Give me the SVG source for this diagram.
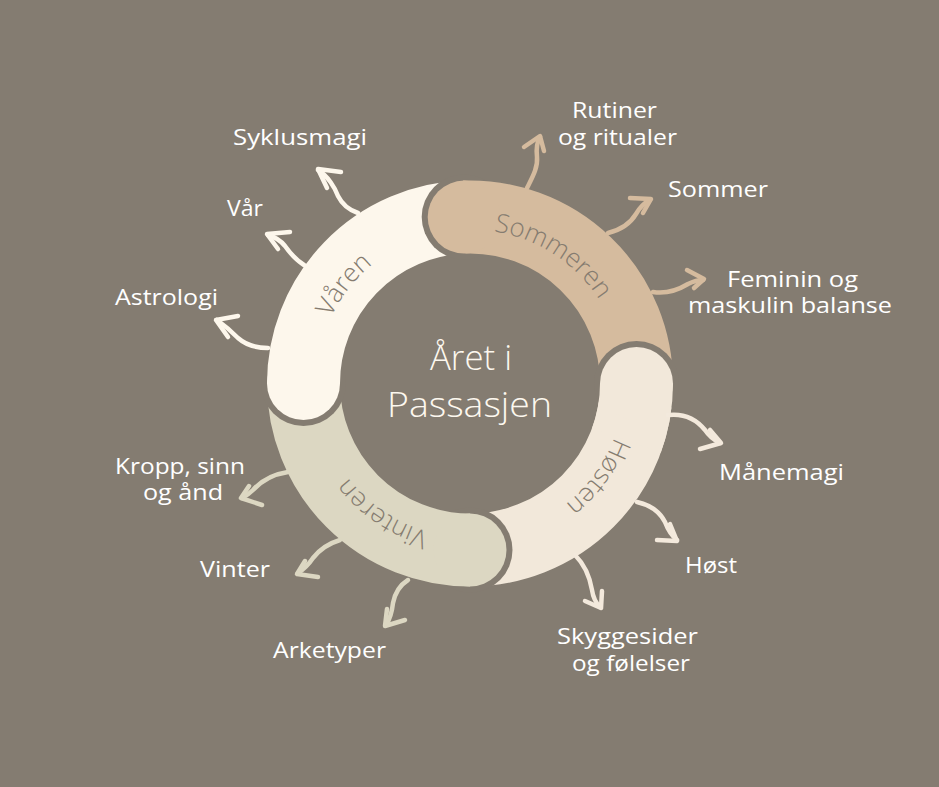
<svg xmlns="http://www.w3.org/2000/svg" width="939" height="787" viewBox="0 0 939 787">
  <defs>
    <style>
      .bg { fill: #847c71; }
      .lbl { font-family: "Open Sans", "Liberation Sans", sans-serif; font-size: 21px; fill: #ffffff; }
      .ring-lbl { font-family: "Open Sans", "Liberation Sans", sans-serif; font-weight: 300; font-size: 26px; fill: #857c70; text-anchor: middle; }
      .center { font-family: "Open Sans", "Liberation Sans", sans-serif; font-weight: 300; font-size: 35px; fill: #fdf8ef; }
      .gap { fill: #847c71; }
      .arc { fill: none; stroke-width: 73; stroke-linecap: butt; }
      .conn path { fill: none; stroke-width: 4.5; stroke-linecap: round; stroke-linejoin: round; }
      .c-som { stroke: #d5bb9e; }
      .c-hos { stroke: #f3e9dc; }
      .c-vin { stroke: #dcd7c2; }
      .c-var { stroke: #fdf7ec; }
    </style>
    <path id="lblpath" d="M 624,383.5 A 154 154 0 1 1 316,383.5 A 154 154 0 1 1 624,383.5"/>
  </defs>

  <rect class="bg" x="0" y="0" width="939" height="787"/>

  <!-- Ring segments -->
  <g id="hosten">
    <circle class="gap" cx="636.5" cy="383.5" r="42.5"/>
    <path class="arc" stroke="#f2e8da" d="M 636.5,383.5 A 166.5 166.5 0 0 1 470,550"/>
    <circle fill="#f2e8da" cx="636.5" cy="383.5" r="36.5"/>
  </g>
  <g id="vinteren">
    <circle class="gap" cx="470" cy="550" r="42.5"/>
    <path class="arc" stroke="#dcd7c2" d="M 470,550 A 166.5 166.5 0 0 1 303.5,383.5"/>
    <circle fill="#dcd7c2" cx="470" cy="550" r="36.5"/>
  </g>
  <g id="varen">
    <circle class="gap" cx="303.5" cy="383.5" r="42.5"/>
    <path class="arc" stroke="#fdf7ec" d="M 303.5,383.5 A 166.5 166.5 0 0 1 464.2,217.1"/>
    <circle fill="#fdf7ec" cx="303.5" cy="383.5" r="36.5"/>
  </g>
  <g id="sommeren">
    <circle class="gap" cx="464.2" cy="217.1" r="42.5"/>
    <path class="arc" stroke="#d5bb9e" d="M 464.2,217.1 A 166.5 166.5 0 0 1 636.5,383.5"/>
    <circle fill="#d5bb9e" cx="464.2" cy="217.1" r="36.5"/>
  </g>
  <g id="hosten-cap">
    <circle class="gap" cx="636.5" cy="383.5" r="42.5"/>
    <path class="arc" stroke="#f2e8da" d="M 636.5,383.5 A 166.5 166.5 0 0 1 626.5,440.4"/>
    <circle fill="#f2e8da" cx="636.5" cy="383.5" r="36.5"/>
  </g>

  <!-- Ring labels -->
  <g id="ring-labels">
    <text class="ring-lbl"><textPath href="#lblpath" startOffset="814">Sommeren</textPath></text>
    <text class="ring-lbl"><textPath href="#lblpath" startOffset="97">Høsten</textPath></text>
    <text class="ring-lbl"><textPath href="#lblpath" startOffset="333">Vinteren</textPath></text>
    <text class="ring-lbl"><textPath href="#lblpath" startOffset="586">Våren</textPath></text>
  </g>

  <!-- Centre -->
  <g id="centre">
    <text class="center" x="430" y="370" textLength="82" lengthAdjust="spacingAndGlyphs">Året i</text>
    <text class="center" x="387" y="417" textLength="165" lengthAdjust="spacingAndGlyphs">Passasjen</text>
  </g>

  <!-- Connectors -->
  <g id="connectors" class="conn">
    <path class="c-som" d="M527,188 C533,176 538,167 537,157 C536,148 537,142 540,137"/>
    <path class="c-som" d="M524,147 L540,136 L544,151"/>
    <path class="c-som" d="M608,233 C620,230 630,224 636,214 C640,207 644,203 650,200"/>
    <path class="c-som" d="M630,198 L651,199 L643,213"/>
    <path class="c-som" d="M653,292 C665,294 678,290 688,284 C694,281 698,280 703,280"/>
    <path class="c-som" d="M687,270 L704,279 L694,288"/>

    <path class="c-hos" d="M668,415 C685,413 697,420 705,430 C709,436 714,440 720,443"/>
    <path class="c-hos" d="M710,430 L721,443 L700,449"/>
    <path class="c-hos" d="M637,502 C650,505 660,512 665,522 C668,530 672,536 677,540"/>
    <path class="c-hos" d="M670,524 L677,541 L657,540"/>
    <path class="c-hos" d="M575,555 C585,565 590,578 592,590 C593,597 596,603 600,607"/>
    <path class="c-hos" d="M585,601 L601,608 L602,591"/>

    <path class="c-vin" d="M288,472 C275,474 262,480 253,490 C250,493 246,496 242,498"/>
    <path class="c-vin" d="M249,486 L241,498 L262,505"/>
    <path class="c-vin" d="M340,540 C330,543 320,549 313,558 C309,564 304,569 298,573"/>
    <path class="c-vin" d="M305,561 L297,574 L318,577"/>
    <path class="c-vin" d="M408,580 C400,585 395,593 393,603 C392,612 390,619 386,625"/>
    <path class="c-vin" d="M387,609 L385,626 L405,620"/>

    <path class="c-var" d="M358,213 C349,210 342,204 338,196 C335,188 328,176 318,170"/>
    <path class="c-var" d="M341,172 L318,169 L327,188"/>
    <path class="c-var" d="M304,265 C296,260 290,253 285,246 C281,241 275,237 268,235"/>
    <path class="c-var" d="M290,232 L267,234 L278,249"/>
    <path class="c-var" d="M268,348 C256,348 246,345 238,338 C232,332 224,325 217,320"/>
    <path class="c-var" d="M238,316 L216,320 L228,337"/>
  </g>

  <!-- Outer labels -->
  <g id="n-rutiner"><text class="lbl" x="572" y="118" textLength="85" lengthAdjust="spacingAndGlyphs">Rutiner</text><text class="lbl" x="558" y="145" textLength="119" lengthAdjust="spacingAndGlyphs">og ritualer</text></g>
  <g id="n-sommer"><text class="lbl" x="668" y="197" textLength="100" lengthAdjust="spacingAndGlyphs">Sommer</text></g>
  <g id="n-feminin"><text class="lbl" x="727" y="287" textLength="131" lengthAdjust="spacingAndGlyphs">Feminin og</text><text class="lbl" x="688" y="313" textLength="204" lengthAdjust="spacingAndGlyphs">maskulin balanse</text></g>
  <g id="n-manemagi"><text class="lbl" x="719" y="480" textLength="125" lengthAdjust="spacingAndGlyphs">Månemagi</text></g>
  <g id="n-host"><text class="lbl" x="685" y="573" textLength="52" lengthAdjust="spacingAndGlyphs">Høst</text></g>
  <g id="n-skygge"><text class="lbl" x="557" y="644" textLength="141" lengthAdjust="spacingAndGlyphs">Skyggesider</text><text class="lbl" x="572" y="671" textLength="118" lengthAdjust="spacingAndGlyphs">og følelser</text></g>
  <g id="n-arketyper"><text class="lbl" x="273" y="658" textLength="113" lengthAdjust="spacingAndGlyphs">Arketyper</text></g>
  <g id="n-vinter"><text class="lbl" x="200" y="577" textLength="70" lengthAdjust="spacingAndGlyphs">Vinter</text></g>
  <g id="n-kropp"><text class="lbl" x="115" y="474" textLength="130" lengthAdjust="spacingAndGlyphs">Kropp, sinn</text><text class="lbl" x="143" y="500" textLength="80" lengthAdjust="spacingAndGlyphs">og ånd</text></g>
  <g id="n-astrologi"><text class="lbl" x="115" y="305" textLength="103" lengthAdjust="spacingAndGlyphs">Astrologi</text></g>
  <g id="n-var"><text class="lbl" x="227" y="216" textLength="36" lengthAdjust="spacingAndGlyphs">Vår</text></g>
  <g id="n-syklus"><text class="lbl" x="233" y="145" textLength="134" lengthAdjust="spacingAndGlyphs">Syklusmagi</text></g>
</svg>
